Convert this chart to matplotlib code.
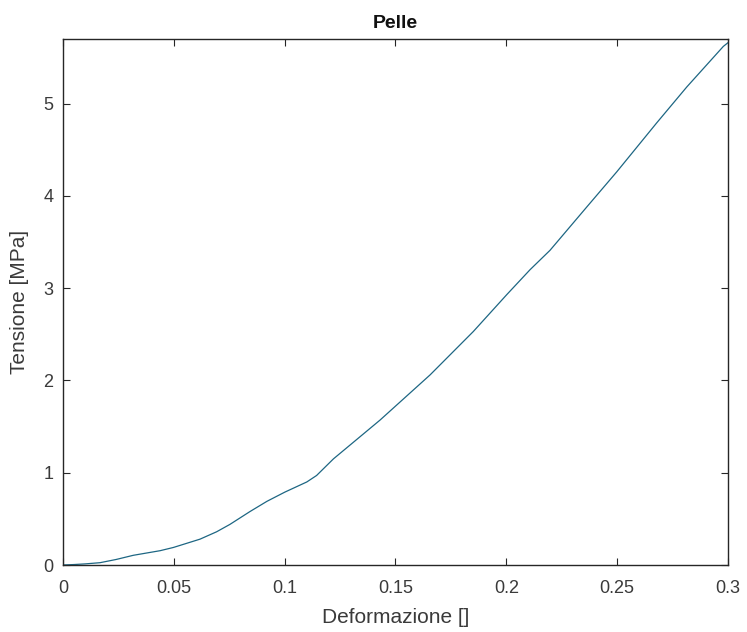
import matplotlib
matplotlib.use("Agg")
import matplotlib.pyplot as plt

plt.rcParams['font.family'] = ['Liberation Sans', 'DejaVu Sans']

# Stress-strain curve for skin
strain = [0.0, 0.005, 0.010, 0.0167, 0.024, 0.0317, 0.0438, 0.0498, 0.0618,
          0.0693, 0.0753, 0.0844, 0.0920, 0.1001, 0.110, 0.1144, 0.1220,
          0.1430, 0.1656, 0.1851, 0.2002, 0.2107, 0.2197, 0.2363, 0.2498,
          0.2678, 0.2814, 0.2979, 0.300]
stress = [0.0, 0.005, 0.012, 0.025, 0.06, 0.105, 0.155, 0.19, 0.28,
          0.36, 0.44, 0.58, 0.69, 0.79, 0.90, 0.97, 1.15,
          1.57, 2.06, 2.53, 2.93, 3.20, 3.41, 3.88, 4.26,
          4.79, 5.18, 5.62, 5.66]

xticks = [0, 0.05, 0.1, 0.15, 0.2, 0.25, 0.3]
xtick_labels = ['0', '0.05', '0.1', '0.15', '0.2', '0.25', '0.3']
yticks = [0, 1, 2, 3, 4, 5]

fig = plt.figure(figsize=(7.47, 6.32), dpi=100)
ax = fig.add_axes([63 / 747, 1 - 565 / 632, (728 - 63) / 747, (565 - 39) / 632])

ax.plot(strain, stress, color='#1d6683', linewidth=0.9)

ax.set_xlim(0, 0.3)
ax.set_ylim(0, 5.7)
ax.set_xticks(xticks)
ax.set_xticklabels(xtick_labels)
ax.set_yticks(yticks)

axis_col = '#262626'
for s in ax.spines.values():
    s.set_color(axis_col)
    s.set_linewidth(1.0)
ax.tick_params(direction='in', length=5, width=0.8, colors=axis_col,
               labelsize=13, top=True, right=True)
ax.tick_params(axis='x', pad=11)
ax.tick_params(axis='y', pad=7)
for lab in ax.get_xticklabels() + ax.get_yticklabels():
    lab.set_color('#3a3a3a')

ax.set_title('Pelle', fontsize=14, fontweight='bold', color='#111111', pad=8)
ax.set_xlabel('Deformazione []', fontsize=15, color='#3a3a3a', labelpad=8)
ax.set_ylabel('Tensione [MPa]', fontsize=15, color='#3a3a3a', labelpad=10)

fig.savefig('out.png', dpi=100, facecolor='white')
